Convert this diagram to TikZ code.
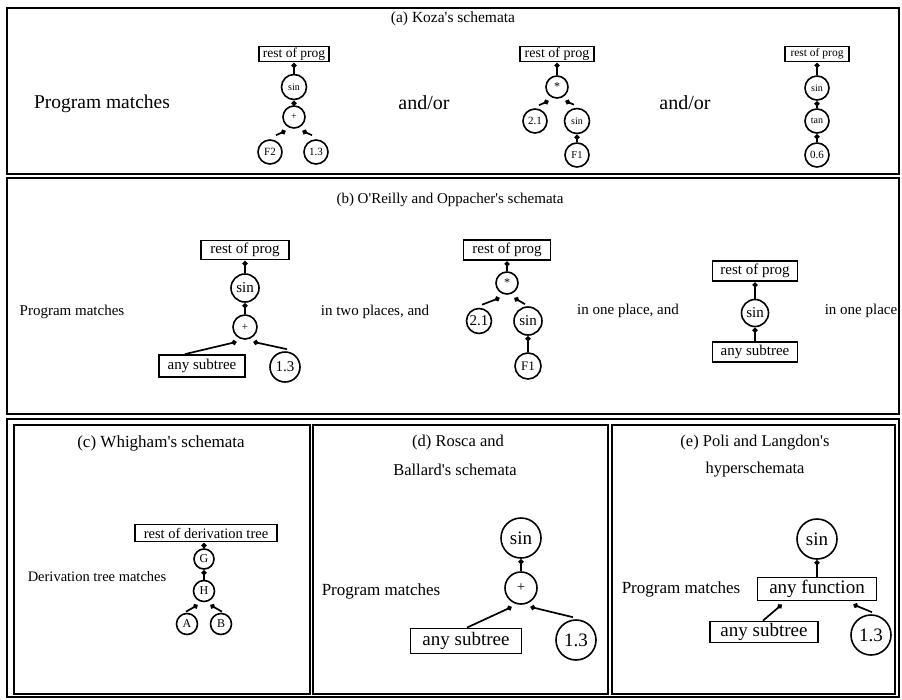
\documentclass[tikz,border=0pt]{standalone}
\usepackage{fontspec}
\setmainfont{Liberation Serif}[Ligatures=TeXOff]
\usetikzlibrary{arrows.meta,calc}
\newcommand\fsz[1]{\fontsize{#1}{#1}\selectfont}
\begin{document}
\begin{tikzpicture}[x=1pt,y=-1pt,
 circ/.style={circle,draw,line width=1.6pt,inner sep=0pt},
 rbox/.style={rectangle,draw,line width=1.8pt,inner sep=0pt},
 edge/.style={line width=1.7pt,-{Circle[length=5pt,width=5pt]},shorten >=0.5pt},
 lbl/.style={inner sep=0pt},
 frame/.style={line width=2pt}]
\useasboundingbox (0,0) rectangle (902,699);
% frames
\draw[frame] (7,8) rectangle (899,174);
\draw[frame] (7,178) rectangle (899,414);
\draw[frame] (7,419) rectangle (899,697);
\draw[frame] (14,425) rectangle (310,694);
\draw[frame] (313,425) rectangle (608,694);
\draw[frame] (612,425) rectangle (895,694);

% ---------- panel (a)
\node[lbl,font=\fsz{15.5}] (ta) at (453,19) {(a) Koza's schemata};
\node[lbl,font=\fsz{19.5}] (pma) at (102,104) {Program matches};
\node[lbl,font=\fsz{20}] (ao1) at (424,103) {and/or};
\node[lbl,font=\fsz{20}] (ao2) at (685,103) {and/or};
% tree 1
\node[rbox,minimum width=70,minimum height=15,font=\fsz{13.5}] (a1box) at (294,54) {rest of prog};
\node[circ,minimum size=25,font=\fsz{10}] (a1sin) at (294,87) {sin};
\node[circ,minimum size=22,font=\fsz{10}] (a1plus) at (294,117) {+};
\node[circ,minimum size=24,font=\fsz{11}] (a1f2) at (270,152) {F2};
\node[circ,minimum size=24,font=\fsz{11}] (a1n13) at (316,152) {1.3};
\draw[edge] (a1sin) -- (a1box);
\draw[edge] (a1plus) -- (a1sin);
\draw[edge] ($(a1f2.north)+(6,-4)$) -- ($(a1plus.south)+(-8,2)$);
\draw[edge] ($(a1n13.north)+(-4,-4)$) -- ($(a1plus.south)+(8,2)$);
% tree 2
\node[rbox,minimum width=74,minimum height=15,font=\fsz{14}] (a2box) at (557,54) {rest of prog};
\node[circ,minimum size=22,font=\fsz{12}] (a2star) at (557,87) {*};
\node[circ,minimum size=24,font=\fsz{11}] (a2n21) at (535,121) {2.1};
\node[circ,minimum size=25,font=\fsz{10}] (a2sin) at (577,121) {sin};
\node[circ,minimum size=24,font=\fsz{10.5}] (a2f1) at (577,155) {F1};
\draw[edge] (a2star) -- (a2box);
\draw[edge] ($(a2n21.north)+(4,-3)$) -- ($(a2star.south)+(-8,2)$);
\draw[edge] ($(a2sin.north)+(-3,-3)$) -- ($(a2star.south)+(8,2)$);
\draw[edge] (a2f1) -- (a2sin);
% tree 3
\node[rbox,minimum width=64,minimum height=15,font=\fsz{11.5}] (a3box) at (817,54) {rest of prog};
\node[circ,minimum size=24,font=\fsz{10}] (a3sin) at (817,88) {sin};
\node[circ,minimum size=24,font=\fsz{10}] (a3tan) at (817,121) {tan};
\node[circ,minimum size=24,font=\fsz{11}] (a3n06) at (817,155) {0.6};
\draw[edge] (a3sin) -- (a3box);
\draw[edge] (a3tan) -- (a3sin);
\draw[edge] (a3n06) -- (a3tan);

% ---------- panel (b)
\node[lbl,font=\fsz{15}] (tb) at (450,200) {(b) O'Reilly and Oppacher's schemata};
\node[lbl,font=\fsz{15}] (pmb) at (72,312) {Program matches};
\node[lbl,font=\fsz{15}] (itp) at (375,312) {in two places, and};
\node[lbl,font=\fsz{15}] (iop) at (628,311) {in one place, and};
\node[lbl,font=\fsz{15}] (iop2) at (861,311) {in one place};
% tree b1
\node[rbox,minimum width=88,minimum height=19,font=\fsz{15}] (b1box) at (245,250) {rest of prog};
\node[circ,minimum size=28,font=\fsz{15}] (b1sin) at (245,288) {sin};
\node[circ,minimum size=24,font=\fsz{11}] (b1plus) at (245,327) {+};
\node[rbox,minimum width=86,minimum height=22,font=\fsz{15}] (b1sub) at (202,366) {any subtree};
\node[circ,minimum size=30,font=\fsz{15}] (b1n13) at (285,367) {1.3};
\draw[edge] (b1sin) -- (b1box);
\draw[edge] (b1plus) -- (b1sin);
\draw[edge] ($(b1sub.north)+(-17,0)$) -- ($(b1plus.south)+(-8,2)$);
\draw[edge] ($(b1n13.north)+(2,-2)$) -- ($(b1plus.south)+(8,2)$);
% tree b2
\node[rbox,minimum width=87,minimum height=20,font=\fsz{15}] (b2box) at (507,250) {rest of prog};
\node[circ,minimum size=22,font=\fsz{12}] (b2star) at (507,283) {*};
\node[circ,minimum size=25,font=\fsz{15}] (b2n21) at (479,321) {2.1};
\node[circ,minimum size=28,font=\fsz{15}] (b2sin) at (528,321) {sin};
\node[circ,minimum size=26,font=\fsz{13}] (b2f1) at (528,366) {F1};
\draw[edge] (b2star) -- (b2box);
\draw[edge] ($(b2n21.north)+(3,-3)$) -- ($(b2star.south)+(-7,3)$);
\draw[edge] ($(b2sin.north)+(-3,-2)$) -- ($(b2star.south)+(7,3)$);
\draw[edge] (b2f1) -- (b2sin);
% tree b3
\node[rbox,minimum width=85,minimum height=20,font=\fsz{15}] (b3box) at (755,271) {rest of prog};
\node[circ,minimum size=27,font=\fsz{15}] (b3sin) at (755,313) {sin};
\node[rbox,minimum width=85,minimum height=20,font=\fsz{15}] (b3sub) at (755,352) {any subtree};
\draw[edge] (b3sin) -- (b3box);
\draw[edge] (b3sub) -- (b3sin);

% ---------- panel (c)
\node[lbl,font=\fsz{17}] (tc) at (161,443) {(c) Whigham's schemata};
\node[lbl,font=\fsz{14.5}] (dtm) at (97,577) {Derivation tree matches};
\node[rbox,minimum width=142,minimum height=17,font=\fsz{14.5}] (cbox) at (206,533) {rest of derivation tree};
\node[circ,minimum size=20,font=\fsz{12}] (cG) at (204,559) {G};
\node[circ,minimum size=21,font=\fsz{12}] (cH) at (204,591) {H};
\node[circ,minimum size=21,font=\fsz{12}] (cA) at (187,624) {A};
\node[circ,minimum size=21,font=\fsz{12}] (cB) at (221,624) {B};
\draw[edge] (cG.north) -- (cG.north |- cbox.south);
\draw[edge] (cH) -- (cG);
\draw[edge] ($(cA.north)+(-1,-1)$) -- ($(cH.south)+(-6,2.5)$);
\draw[edge] ($(cB.north)+(1,-1)$) -- ($(cH.south)+(6,2.5)$);

% ---------- panel (d)
\node[lbl,font=\fsz{16.5}] (td1) at (458,443) {(d) Rosca and};
\node[lbl,font=\fsz{16.5}] (td2) at (455,470) {Ballard's schemata};
\node[lbl,font=\fsz{17}] (pmd) at (381,591) {Program matches};
\node[circ,minimum size=40,font=\fsz{19}] (dsin) at (521,538) {sin};
\node[circ,minimum size=32,font=\fsz{14}] (dplus) at (521,588) {+};
\node[rbox,minimum width=111,minimum height=25,font=\fsz{19}] (dsub) at (466,641) {any subtree};
\node[circ,minimum size=40,font=\fsz{19}] (dn13) at (576,640) {1.3};
\draw[edge] (dplus) -- (dsin);
\draw[edge] ($(dsub.north)+(1,0)$) -- ($(dplus.south)+(-9,2)$);
\draw[edge] ($(dn13.north)+(-3,-2)$) -- ($(dplus.south)+(9,2)$);

% ---------- panel (e)
\node[lbl,font=\fsz{16.5}] (te1) at (755,443) {(e) Poli and Langdon's};
\node[lbl,font=\fsz{16.5}] (te2) at (755,470) {hyperschemata};
\node[lbl,font=\fsz{17}] (pme) at (681,589) {Program matches};
\node[circ,minimum size=40,font=\fsz{19}] (esin) at (817,539) {sin};
\node[rbox,minimum width=119,minimum height=23,font=\fsz{19}] (efun) at (817,589) {any function};
\node[rbox,minimum width=108,minimum height=21,font=\fsz{19}] (esub) at (764,632) {any subtree};
\node[circ,minimum size=40,font=\fsz{19}] (en13) at (871,635) {1.3};
\draw[edge] (efun) -- (esin);
\draw[edge] ($(esub.north)+(-1,0)$) -- ($(efun.south)+(-35,3)$);
\draw[edge] ($(en13.north)+(1,-2)$) -- ($(efun.south)+(36,3)$);
\end{tikzpicture}
\end{document}
